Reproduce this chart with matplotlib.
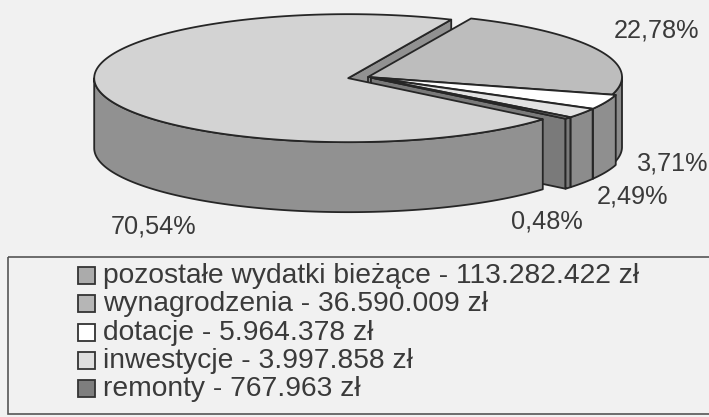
import numpy as np
import matplotlib
matplotlib.use("Agg")
import matplotlib.pyplot as plt
from matplotlib.patches import Polygon, Rectangle

# ---------------- data ----------------
categories = ["pozostałe wydatki bieżące", "wynagrodzenia", "dotacje", "inwestycje", "remonty"]
amounts = [113282422, 36590009, 5964378, 3997858, 767963]

# ---------------- style / layout ----------------
top_colors = ["#d3d3d3", "#bdbdbd", "#ffffff", "#e3e3e3", "#8c8c8c"]
side_colors = ["#919191", "#8b8b8b", "#8f8f8f", "#8c8c8c", "#7a7a7a"]
legend_colors = ["#ababab", "#b6b6b6", "#ffffff", "#dedede", "#7e7e7e"]
explode = [0.08, 0.0, 0.015, 0.015, 0.015]
label_pos = [(111, 233), (614, 37), (637, 170), (597, 203), (511, 228)]  # left, baseline

CX, CY = 368.0, 77.0      # pie centre (pixels)
RX, RY = 254.0, 64.0      # ellipse radii
DEPTH = 70.0              # thickness
START = 320.0             # first slice starts here, clockwise
EDGE = "#262626"
TEXT = "#3a3a3a"
FONT = "Liberation Sans"
BG = "#f1f1f1"

W, H = 709, 417
fig = plt.figure(figsize=(W / 100, H / 100), dpi=100, facecolor=BG)
ax = fig.add_axes([0, 0, 1, 1])
ax.set_xlim(0, W)
ax.set_ylim(H, 0)
ax.axis("off")
ax.set_facecolor(BG)

total = float(sum(amounts))
fracs = [a / total for a in amounts]


def edge_pt(ox, oy, t, dz=0.0):
    r = np.radians(t)
    return ox + RX * np.cos(r), oy - RY * np.sin(r) + dz


def arc(ox, oy, a0, a1, dz=0.0, n=None):
    if n is None:
        n = max(2, int(abs(a1 - a0) * 2) + 2)
    ts = np.linspace(a0, a1, n)
    return [edge_pt(ox, oy, t, dz) for t in ts]


slices = []
cum = 0.0
for i, f in enumerate(fracs):
    a1 = START - cum * 360.0
    a0 = START - (cum + f) * 360.0
    cum += f
    mid = np.radians((a0 + a1) / 2)
    ox = CX + explode[i] * RX * np.cos(mid)
    oy = CY - explode[i] * RY * np.sin(mid)
    slices.append((a0, a1, ox, oy))

radial, walls, tops = [], [], []
for i, (a0, a1, ox, oy) in enumerate(slices):
    # radial cut faces
    for ang, vis in ((a0, np.cos(np.radians(a0)) > 0), (a1, np.cos(np.radians(a1)) < 0)):
        if vis:
            ex, ey = edge_pt(ox, oy, ang)
            poly = [(ox, oy), (ex, ey), (ex, ey + DEPTH), (ox, oy + DEPTH)]
            radial.append((ey, poly, side_colors[i]))
    # outer front walls
    for k in (-360.0, 0.0, 360.0):
        lo, hi = max(a0, 180.0 + k), min(a1, 360.0 + k)
        if hi > lo:
            poly = arc(ox, oy, lo, hi) + arc(ox, oy, hi, lo, DEPTH)
            walls.append((poly, side_colors[i]))
    # top face
    tops.append(([(ox, oy)] + arc(ox, oy, a0, a1), top_colors[i]))

for _, poly, c in sorted(radial, key=lambda r: r[0]):
    ax.add_patch(Polygon(poly, closed=True, facecolor=c, edgecolor=EDGE, lw=1.3, joinstyle="round"))
for poly, c in walls:
    ax.add_patch(Polygon(poly, closed=True, facecolor=c, edgecolor=EDGE, lw=1.3, joinstyle="round"))
for poly, c in tops:
    ax.add_patch(Polygon(poly, closed=True, facecolor=c, edgecolor=EDGE, lw=1.3, joinstyle="round"))

# percentage labels
for f, (lx, ly) in zip(fracs, label_pos):
    txt = f"{100 * f:.2f}".replace(".", ",") + "%"
    ax.text(lx, ly, txt, ha="left", va="baseline", fontsize=18.2, family=FONT, color=TEXT)

# legend
ax.add_patch(Rectangle((8, 257), 712, 157, facecolor="none", edgecolor="#555555", lw=1.2))
base0, step = 283.0, 28.3
for i, (name, amt) in enumerate(zip(categories, amounts)):
    by = base0 + i * step
    ax.add_patch(Rectangle((78, by - 16), 17, 17, facecolor=legend_colors[i], edgecolor="#333333", lw=1.3))
    label = f"{name} - " + f"{amt:,}".replace(",", ".") + " zł"
    ax.text(103, by, label, ha="left", va="baseline", fontsize=20.3, family=FONT, color=TEXT)

fig.savefig("out.png", dpi=100, facecolor=BG)
